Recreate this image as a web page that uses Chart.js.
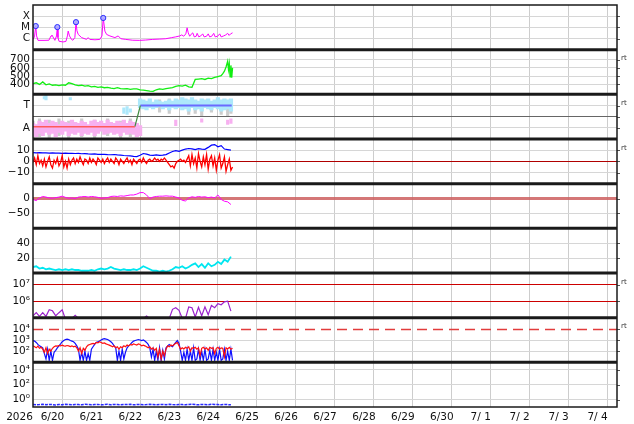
<!DOCTYPE html>
<html><head><meta charset="utf-8">
<script src="https://cdn.jsdelivr.net/npm/chart.js@4"></script>
<style>html,body{margin:0;padding:0;background:#fff;}canvas{display:block;}</style>
</head><body>
<canvas id="c" width="634" height="424"></canvas>
<script>
// ---- axis categories (hours since 6/20 00:00) ----
const yearLabel = '2026';
const dayLabels = ['6/20','6/21','6/22','6/23','6/24','6/25','6/26','6/27','6/28','6/29','6/30','7/ 1','7/ 2','7/ 3','7/ 4'];
const xTickHours = Array.from({length: 31}, (_, i) => i * 12);
const hours2 = Array.from({length: 62}, (_, i) => i * 2);
const hours1 = Array.from({length: 124}, (_, i) => i);

// ---- panel 1: X-ray flux ----
const xrayTickValues = [1e-6, 1e-5, 1e-4];
const xrayTickLabels = ['C', 'M', 'X'];
const xrayHours = [0,0.9,1.7,2.2,3.1,6.8,9.8,11.1,11.7,12.3,13.5,14.5,15,15.4,16,18.5,20.3,21.2,21.7,22.5,23.7,24.6,25.8,26.5,27.1,27.9,30,33,34,35,38.2,41.2,42.5,43.3,44.3,45.4,47.4,50.5,52.5,54.2,57.2,61.5,65.8,69.5,73.8,78.2,81.8,85.5,88,90.5,91.7,92.9,94.2,95,95.7,96.6,97.5,98.5,99.4,100.6,101.2,102.2,103.4,104.6,105.5,107,108,108.9,110.2,111.4,112.3,113.8,115.1,116,117.5,118.8,120,120.9,121.8,123];
const xrayFlux = [8.3e-7,1.4e-6,1.3e-5,1.7e-6,6.8e-7,6.8e-7,7e-7,1.7e-6,2.0e-6,1.4e-6,6.8e-7,1.7e-6,1.05e-5,1.2e-6,5.7e-7,4.9e-7,5.5e-7,1.7e-6,4.6e-6,1.7e-6,8.3e-7,7e-7,1.2e-6,2.9e-5,4.9e-6,2.3e-6,1.2e-6,8.3e-7,1.2e-6,8.3e-7,7.7e-7,8.3e-7,1.7e-6,6.9e-5,4.6e-6,2.3e-6,1.7e-6,1.2e-6,1.7e-6,9.5e-7,8.3e-7,7e-7,6.8e-7,7.3e-7,8.3e-7,8.9e-7,9.5e-7,1.2e-6,1.4e-6,1.7e-6,2.1e-6,1.6e-6,2.6e-6,9.1e-6,3.2e-6,1.6e-6,2.4e-6,3.2e-6,1.4e-6,1.6e-6,2.9e-6,1.4e-6,1.7e-6,2.6e-6,1.4e-6,1.6e-6,2.6e-6,1.4e-6,1.6e-6,2.9e-6,1.4e-6,1.6e-6,2.6e-6,1.4e-6,1.7e-6,2.1e-6,2.9e-6,1.9e-6,2.6e-6,3.2e-6];
const flareHours = [1.7, 15, 26.5, 43.3];
const flareFlux = [1.3e-5, 1.05e-5, 2.9e-5, 6.9e-5];

// ---- panel 2: solar wind speed ----
const speedTickValues = [400, 500, 600, 700];
const speedHours = [0,2,4,6,8,10,12,14,16,18,20,22,24,26,28,30,32,34,36,38,40,42,44,46,48,50,52,54,56,58,60,62,64,66,68,70,72,74,76,78,80,82,84,86,88,90,92,94,96,98,100,102,104,106,108,110,112,114,116,117,118,119,120,120.5,121,121.5,122,122.5,123];
const speedValues = [410,420,400,430,395,405,390,395,385,395,390,420,410,395,385,390,380,385,370,375,365,370,360,365,355,350,360,350,345,350,340,345,345,335,330,325,318,315,335,345,340,350,355,360,375,385,380,390,370,365,460,465,470,460,475,470,485,495,505,530,560,610,680,580,650,490,630,480,600];

// ---- panel 3: IMF sector ----
const sectorTickValues = [-1, 0, 1];
const sectorTickLabels = ['A', '', 'T'];
const awayLineHours = [0, 62.8];
const awayLineValues = [-0.9, -0.9];
const switchLineHours = [62.8, 66.2];
const switchLineValues = [-0.9, 1];
const towardLineHours = [66.2, 122.5];
const towardLineValues = [1, 1];
const pinkHours = [0,2,4,6,8,10,12,14,16,18,20,22,24,26,28,30,32,34,36,38,40,42,44,46,48,50,52,54,56,58,60,62,64,66];
const pinkLo = [-1.6,-1.8,-1.5,-1.7,-1.4,-1.6,-1.5,-1.8,-1.4,-1.6,-1.3,-1.7,-1.5,-1.6,-1.4,-1.7,-1.5,-1.6,-1.4,-1.7,-1.5,-1.3,-1.6,-1.5,-1.4,-1.6,-1.5,-1.7,-1.4,-1.6,-1.5,-1.6,-1.8,-1.7];
const pinkHi = [-0.6,-0.7,-0.4,-0.5,-0.3,-0.6,-0.4,-0.5,-0.7,-0.4,-0.5,-0.6,-0.3,-0.5,-0.6,-0.4,-0.5,-0.7,-0.4,-0.3,-0.5,-0.4,-0.6,-0.3,-0.5,-0.6,-0.4,-0.5,-0.3,-0.6,-0.4,-0.5,-0.6,-0.8];
const cyanHours = [66,68,70,72,74,76,78,80,82,84,86,88,90,92,94,96,98,100,102,104,106,108,110,112,114,116,118,120,122];
const cyanLo = [0.8,0.7,0.6,0.8,0.7,0.8,0.9,0.7,0.8,0.6,0.8,0.7,0.8,0.6,0.7,0.5,0.8,0.6,0.7,0.5,0.8,0.7,0.6,0.8,0.7,0.5,0.6,0.7,0.5];
const cyanHi = [1.6,1.5,1.4,1.6,1.3,1.5,1.4,1.3,1.4,1.5,1.4,1.6,1.5,1.7,1.6,1.5,1.7,1.5,1.4,1.6,1.5,1.6,1.4,1.5,1.7,1.5,1.6,1.5,1.6];
const greyHours = [0,4,10,16,22,30,38,46,54,60,78,84,96,100,104,110,116,120,122];
const greyLo = [-1.9,-1.8,-1.9,-1.7,-1.9,-1.8,-1.9,-1.7,-1.9,-1.8,0.4,0.3,0.2,0.3,0.1,0.4,0.2,0.1,0.3];
const greyHi = [-0.4,-0.2,-0.3,-0.2,-0.4,-0.2,-0.3,-0.2,-0.4,-0.2,1.5,1.6,1.4,1.2,1.5,1.3,1.4,1.3,1.5];
const strayCyanHours = [7, 8, 23, 56, 58, 60];
const strayCyanLo = [1.6, 1.5, 1.5, 0.3, 0.2, 0.4];
const strayCyanHi = [1.8, 1.9, 1.7, 0.8, 0.9, 0.7];
const strayPinkHours = [88, 104, 120, 122];
const strayPinkLo = [-0.8, -0.5, -0.7, -0.6];
const strayPinkHi = [-0.3, -0.2, -0.3, -0.2];

// ---- panel 4: IMF Bt / Bz ----
const bTickValues = [-10, 0, 10];
const bTickLabels = ['\u221210', '0', '10'];
const btValues = [7.8,7.6,7.8,7.5,7.6,7.4,7.5,7.3,7.4,7.2,7.3,7.1,7.2,7,7.1,6.8,6.9,6.6,6.5,6.6,6.3,6.2,6.3,6,5.9,6.1,5.7,5.5,5.2,5,4.9,4.5,4.3,5.5,7,6.5,5.6,5.4,5.8,5.3,5.6,6,7.5,8.8,9.5,9,10,11,11.5,11.2,10.5,11.3,11,10.8,12.5,14.5,15,13,14,11,10.5,10];
const bzValues = [-1,3,-3,5,-2,1,-4,2,-5,0,4,-3,-6,1,-2,3,-4,-1,5,-5,0,-6,2,-3,
  1,3,-2,2,-1,4,0,-3,2,1,-2,3,-1,2,0,-3,3,1,-1,2,-2,1,3,-1,
  2,0,-2,3,1,-3,2,0,-2,1,3,-1,1,-3,2,0,-2,1,2,-1,3,0,-2,1,
  2,0,1,3,1,2,0,2,1,3,1,-1,-3,-5,-4,-6,-2,0,1,2,0,1,-1,2,
  5,-4,6,-2,3,-6,7,0,-5,4,-3,6,-7,2,5,-4,3,-8,1,6,-6,-2,4,-9,-3,2,-8,-5];

// ---- panel 5: Dst ----
const dstTickValues = [-50, 0];
const dstTickLabels = ['\u221250', '0'];
const dstValues = [-3,-7,2,7,5,2,1,3,5,8,4,1,2,0,5,6,7,5,7,6,4,1,2,3,7,8,7,9,8,10,12,12,15,20,20,12,0,5,7,8,8,9,8,8,5,2,-6,-8,2,6,4,7,5,6,3,5,2,12,-3,-9,-11,-20];

// ---- panel 6: density ----
const densTickValues = [20, 40];
const densValues = [8,9,6,7,5,6,5,4,5,4,5,4,5,4,4,3,3,3,4,3,5,6,5,6,8,6,5,4,5,4,4,5,4,6,9,7,5,3,3,2,3,2,3,5,8,7,9,6,8,11,13,8,12,7,13,9,11,15,12,18,15,22];

// ---- panel 7: electron flux ----
const eTickValues = [1e6, 1e7];
const eTickLabels = ['10\u2076', '10\u2077'];
const eValues = [1.3e5,2.0e5,1.2e5,2.0e5,1.2e5,3.0e5,2.6e5,1.3e5,2.0e5,3.0e5,
  8e4,null,9e4,1.4e5,9e4,null,null,null,null,null,
  null,null,null,null,null,null,null,null,null,null,
  null,null,null,null,9e4,1.25e5,9e4,null,null,null,
  null,null,9e4,3.2e5,4e5,2.8e5,9e4,9e4,4.5e5,4e5,
  1.1e5,4.2e5,1.3e5,4.5e5,1.5e5,5.5e5,4e5,7e5,6e5,9e5,
  1.0e6,2.5e5];

// ---- panel 8: proton flux ----
const pTickValues = [1e2, 1e3, 1e4];
const pTickLabels = ['10\u00b2', '10\u00b3', '10\u2074'];
const pBlue = [900,800,600,400,300,250,200,60,20,150,
  15,100,15,80,120,200,300,450,700,900,
  1100,1200,1100,900,800,700,500,300,150,15,
  80,15,100,15,60,15,150,250,400,600,
  700,800,1000,1200,1300,1200,1100,900,700,500,
  300,200,15,100,15,150,20,80,200,300,
  400,600,800,900,1000,1100,1000,900,1000,800,
  600,400,200,30,150,15,100,15,200,15,
  120,20,200,300,400,300,250,400,600,900,
  500,100,15,80,15,150,15,100,15,200,
  15,20,150,15,100,15,150,15,20,120,
  15,150,15,80,15,150,15,20,150,15,
  100,15,150,15];
const pRed = [300,250,200,280,180,220,150,80,200,60,
  150,100,180,250,300,280,320,300,350,300,
  280,320,300,260,300,250,280,200,100,200,
  60,180,120,250,350,400,450,500,450,600,
  550,700,600,500,550,450,400,350,300,250,
  300,200,250,150,250,200,300,250,350,300,
  400,350,450,400,350,450,400,300,350,300,
  250,200,250,150,200,120,180,30,150,20,
  100,40,150,300,250,350,300,400,500,600,
  300,150,200,160,220,180,250,100,200,180,
  220,150,200,40,180,220,160,200,120,220,
  180,200,60,180,220,150,200,180,30,200,
  160,220,150,180];

// ---- panel 9 ----
const nTickValues = [1, 1e2, 1e4];
const nTickLabels = ['10\u2070', '10\u00b2', '10\u2074'];
const nValues = [0.22,0.2,0.21,0.23,0.2,0.22,0.21,0.19,0.22,0.2,
  0.23,0.21,0.2,0.22,0.21,0.2,0.23,0.22,0.2,0.21,
  0.22,0.2,0.21,0.23,0.2,0.22,0.21,0.2,0.22,0.21,
  0.23,0.2,0.21,0.22,0.2,0.21,0.23,0.22,0.2,0.21,
  0.22,0.2,0.23,0.21,0.2,0.22,0.21,0.2,0.22,0.23,
  0.21,0.2,0.22,0.21,0.2,0.23,0.22,0.21,0.2,0.22,
  0.21,0.2];

// ---- helpers ----
const pts = (hs, vs) => hs.map((h, i) => ({x: h, y: vs[i]}));
const band = (hs, lo, hi) => hs.map((h, i) => ({x: h, y: [lo[i], hi[i]]}));
const FONT = 'DejaVu Sans';
const FSIZE = 10.5;
Chart.defaults.font.family = FONT;
Chart.defaults.font.size = FSIZE;
Chart.defaults.color = '#111';

function line(yAxisID, data, color, width, order, extra) {
  return Object.assign({type: 'line', xAxisID: 'x', yAxisID, data, borderColor: color, borderWidth: width,
    pointRadius: 0, fill: false, tension: 0, order}, extra || {});
}
function bars(yAxisID, data, color, thick, order) {
  return {type: 'bar', xAxisID: 'x', yAxisID, data, backgroundColor: color, borderWidth: 0,
    barThickness: thick, grouped: false, order};
}
function noPad(s) { s.paddingTop = 0; s.paddingBottom = 0; s.paddingLeft = 0; s.paddingRight = 0; }
function yScale(weight, type, min, max, tickValues, tickLabels, gridColor, gridWidth) {
  return {
    type, min, max, position: 'left', stack: 'panels', stackWeight: 1, weight,
    border: {display: false},
    grid: {drawTicks: false, color: gridColor || '#d6d6d6', lineWidth: gridWidth || 1},
    afterBuildTicks: s => { s.ticks = tickValues.map(v => ({value: v})); },
    ticks: {autoSkip: false, padding: 3, color: '#111', font: {size: FSIZE},
      callback: (v, i) => tickLabels ? tickLabels[i] : String(tickValues[i])},
    afterFit: s => { s.width = 33; noPad(s); }
  };
}

const panelIds = ['y1','y2','y3','y4','y5','y6','y7','y8','y9'];
const rtPanels = ['y2','y3','y4','y7','y8'];

const overlay = {
  id: 'overlay',
  beforeDatasetsDraw(chart) {
    const ctx = chart.ctx, a = chart.chartArea;
    const y = Math.round(chart.scales.y8.getPixelForValue(1e4)) + 0.5;
    ctx.save();
    ctx.strokeStyle = '#e23c3c'; ctx.lineWidth = 1.5; ctx.setLineDash([10, 6]);
    ctx.beginPath(); ctx.moveTo(a.left, y); ctx.lineTo(a.right, y); ctx.stroke();
    ctx.restore();
  },
  afterDatasetsDraw(chart) {
    const ctx = chart.ctx, a = chart.chartArea;
    ctx.save();
    ctx.strokeStyle = '#555'; ctx.lineWidth = 1;
    panelIds.forEach(id => {
      const s = chart.scales[id];
      s.ticks.forEach(t => {
        const y = Math.round(s.getPixelForValue(t.value)) + 0.5;
        ctx.beginPath(); ctx.moveTo(a.right, y); ctx.lineTo(a.right + 3, y); ctx.stroke();
      });
    });
    ctx.strokeStyle = '#1a1a1a'; ctx.lineWidth = 3;
    panelIds.slice(1).forEach(id => {
      const y = chart.scales[id].top;
      ctx.beginPath(); ctx.moveTo(a.left, y); ctx.lineTo(a.right, y); ctx.stroke();
    });
    ctx.lineWidth = 1.5;
    ctx.strokeRect(a.left, a.top, a.right - a.left, a.bottom - a.top);
    ctx.fillStyle = '#333'; ctx.font = '7px "' + FONT + '"';
    ctx.textAlign = 'left'; ctx.textBaseline = 'middle';
    rtPanels.forEach(id => ctx.fillText('rt', a.right + 4, chart.scales[id].top + 9));
    ctx.fillStyle = '#111'; ctx.font = FSIZE + 'px "' + FONT + '"'; ctx.textAlign = 'center';
    ctx.fillText(yearLabel, 19.5, chart.scales.x.top + 10);
    ctx.restore();
  }
};

new Chart(document.getElementById('c'), {
  type: 'line',
  data: {
    datasets: [
      // panel 1
      line('y1', pts(flareHours, flareFlux), '#2a2aff', 1, 0, {showLine: false, pointRadius: 2.6,
        pointBorderColor: '#2a2aff', pointBackgroundColor: 'rgba(170,170,255,0.9)', pointBorderWidth: 1}),
      line('y1', pts(xrayHours, xrayFlux), '#ff00ff', 1, 1),
      // panel 2
      line('y2', pts(speedHours, speedValues), '#11ee11', 1.3, 1),
      // panel 3
      line('y3', pts(awayLineHours, awayLineValues), '#ff5a5a', 1.5, 0),
      line('y3', pts(switchLineHours, switchLineValues), '#3f8a3f', 1.2, 0),
      line('y3', pts(towardLineHours, towardLineValues), '#6a6aff', 1.8, 0),
      bars('y3', band(strayPinkHours, strayPinkLo, strayPinkHi), '#f7b0f0', 2.5, 2),
      bars('y3', band(strayCyanHours, strayCyanLo, strayCyanHi), '#ade8fb', 2.5, 2),
      bars('y3', band(cyanHours, cyanLo, cyanHi), '#ade8fb', 3.6, 3),
      bars('y3', band(pinkHours, pinkLo, pinkHi), '#f7b0f0', 3.6, 4),
      bars('y3', band(greyHours, greyLo, greyHi), '#cdcdcd', 2.5, 5),
      // panel 4
      line('y4', pts(hours1, bzValues), '#ff0000', 1.3, 1),
      line('y4', pts(hours2, btValues), '#0000ff', 1.2, 2),
      // panel 5
      line('y5', pts(hours2, dstValues), '#ff00ff', 1, 1),
      // panel 6
      line('y6', pts(hours2, densValues), '#00e6f0', 1.8, 1),
      // panel 7
      line('y7', pts(hours2, eValues), '#9a22cc', 1.2, 1),
      // panel 8
      line('y8', pts(hours1, pRed), '#ff1010', 1.2, 1),
      line('y8', pts(hours1, pBlue), '#1010ff', 1.2, 2),
      // panel 9
      line('y9', pts(hours2, nValues), '#2a2aff', 1.5, 1, {borderDash: [3, 1]})
    ]
  },
  options: {
    responsive: false, animation: false, events: [],
    layout: {padding: {top: 2, right: 17, left: 0, bottom: 0}},
    plugins: {legend: {display: false}, tooltip: {enabled: false}},
    scales: {
      x: {
        type: 'linear', min: 0, max: 360, position: 'bottom', offset: false,
        border: {display: false},
        grid: {drawTicks: false, lineWidth: 1,
          color: c => (c.tick && c.tick.value % 24 === 0) ? '#cdcdcd' : 'rgba(0,0,0,0)'},
        afterBuildTicks: s => { s.ticks = xTickHours.map(v => ({value: v})); },
        ticks: {autoSkip: false, maxRotation: 0, minRotation: 0, padding: 4, color: '#111', font: {size: FSIZE},
          callback: v => (v % 24 === 12) ? dayLabels[Math.floor(v / 24)] : ''},
        afterFit: s => { s.height = 17; noPad(s); }
      },
      y1: yScale(9, 'logarithmic', 1e-7, 1e-3, xrayTickValues, xrayTickLabels),
      y2: yScale(8, 'linear', 280, 820, speedTickValues, null),
      y3: yScale(7, 'linear', -2, 2, sectorTickValues, sectorTickLabels,
        c => (c.tick && c.tick.value === 0) ? '#666666' : '#d6d6d6'),
      y4: yScale(6, 'linear', -20, 20, bTickValues, bTickLabels,
        c => (c.tick && c.tick.value === 0) ? '#b00000' : '#d6d6d6'),
      y5: yScale(5, 'linear', -100, 50, dstTickValues, dstTickLabels,
        c => (c.tick && c.tick.value === 0) ? 'rgba(205,95,95,0.85)' : '#d6d6d6',
        c => (c.tick && c.tick.value === 0) ? 3 : 1),
      y6: yScale(4, 'linear', 0, 60, densTickValues, null),
      y7: yScale(3, 'logarithmic', 1e5, 5e7, eTickValues, eTickLabels, '#cc0000'),
      y8: yScale(2, 'logarithmic', 10, 1e5, pTickValues, pTickLabels,
        c => (c.tick && c.tick.value >= 9999) ? 'rgba(0,0,0,0)' : '#d6d6d6'),
      y9: yScale(1, 'logarithmic', 0.1, 1e5, nTickValues, nTickLabels)
    }
  },
  plugins: [overlay]
});
</script>
</body></html>
